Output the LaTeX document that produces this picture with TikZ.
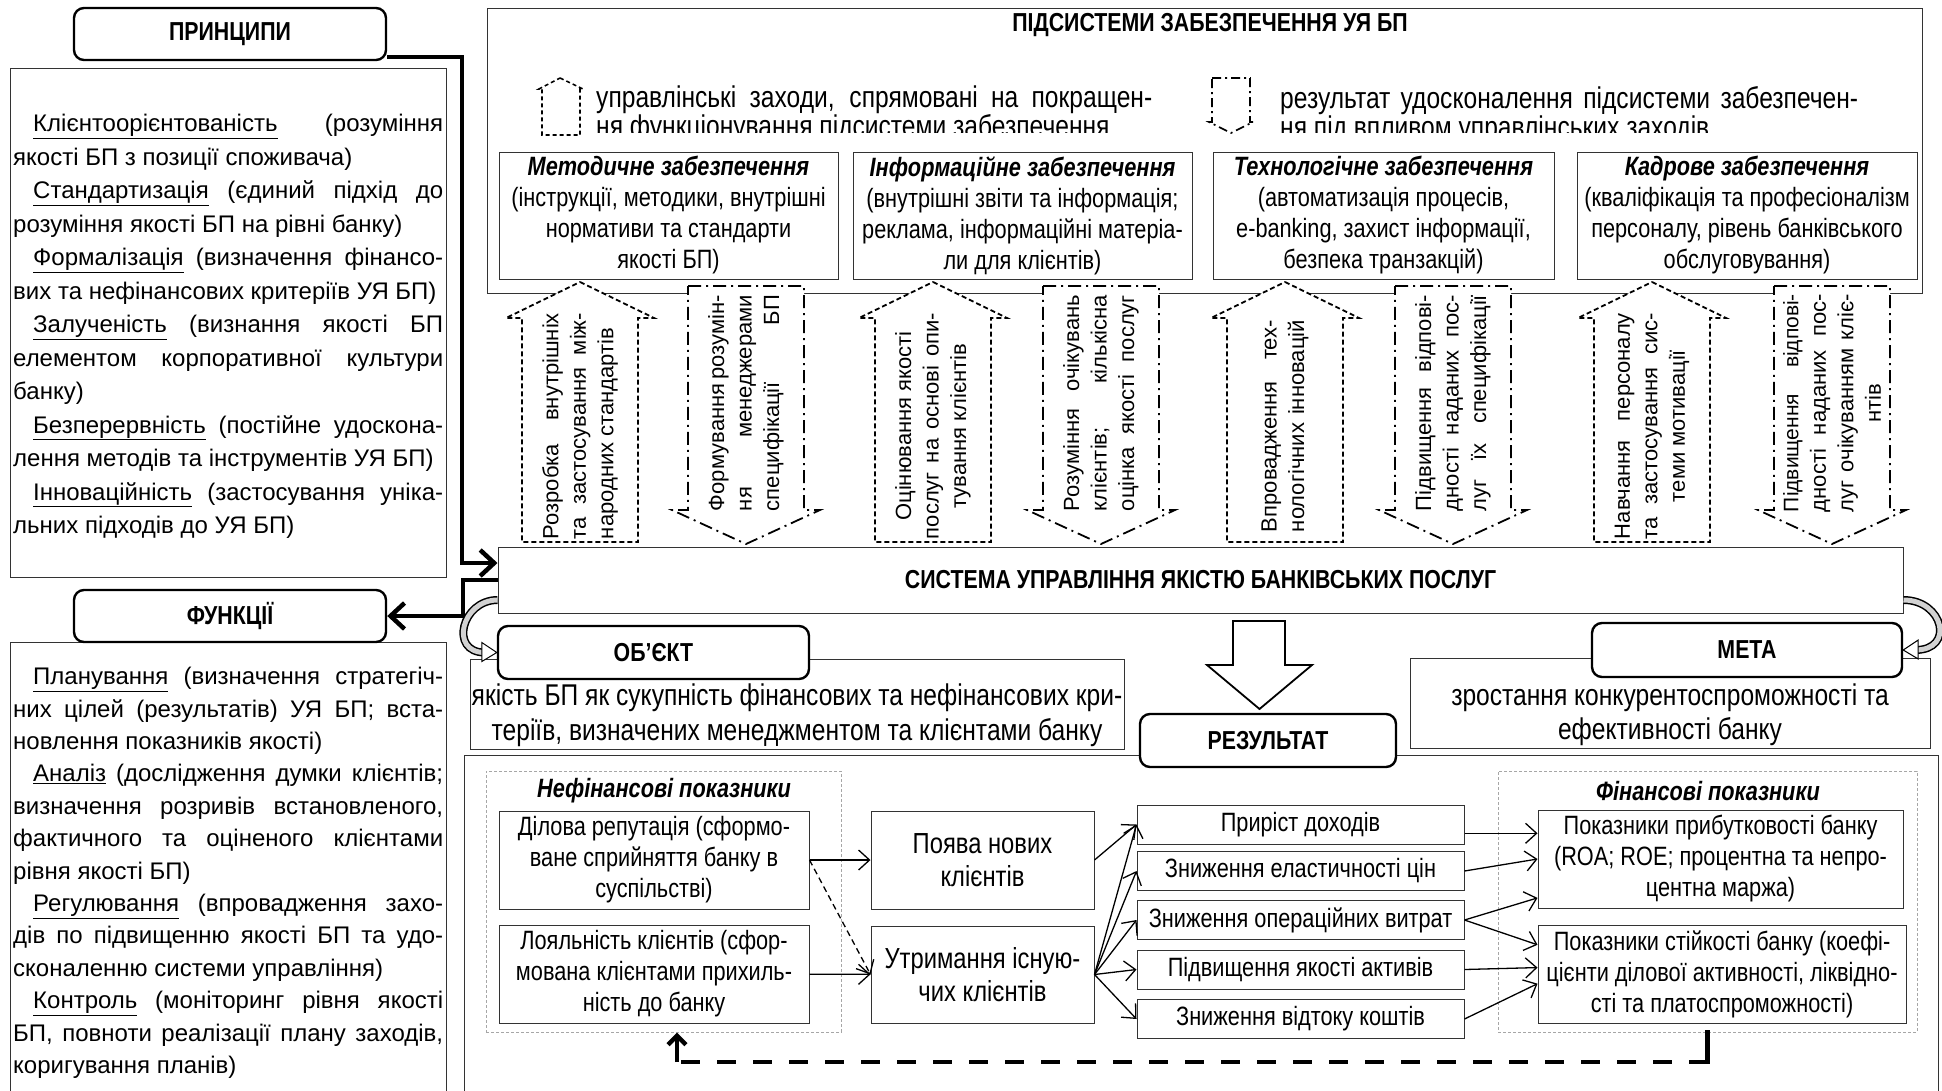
\documentclass[tikz,border=0pt]{standalone}
\usepackage{fontspec}
\setmainfont{Liberation Sans}
\newfontfamily\narrowfont[FakeStretch=0.82]{Liberation Sans}
\usetikzlibrary{arrows.meta}
\newcommand\jl[2][430pt]{\makebox[#1][s]{#2}}
\newcommand\ind{\hspace*{20pt}}

\begin{document}
\begin{tikzpicture}[x=1pt,y=-1pt,
    frame/.style={draw=lineC,line width=1pt},
    tbox/.style={draw=lineC,line width=1pt,fill=white,inner sep=1pt,align=center,
                 font=\narrowfont\fontsize{26.5}{31}\selectfont},
    head/.style={draw,line width=2.4pt,rounded corners=10pt,fill=white,
                 font=\narrowfont\bfseries\fontsize{26}{30}\selectfont},
    hdtxt/.style={inner sep=0pt,font=\narrowfont\bfseries\fontsize{26}{30}\selectfont},
    grtxt/.style={inner sep=0pt,font=\narrowfont\bfseries\itshape\fontsize{26.5}{31}\selectfont},
    ltext/.style={align=left,inner sep=0pt,anchor=north west,
                  font=\fontsize{24}{33.5}\selectfont},
    legtext/.style={align=left,inner sep=0pt,anchor=north west,
                    font=\narrowfont\fontsize{30}{29}\selectfont},
    bigtxt/.style={inner sep=0pt,align=center,font=\narrowfont\fontsize{30}{34.5}\selectfont},
    vtext/.style={rotate=90,inner sep=0pt,font=\fontsize{22}{27.5}\selectfont},
    uparr/.style={draw,line width=1.8pt,fill=white,dash pattern=on 5pt off 3pt},
    dnarr/.style={draw,line width=1.8pt,fill=white,dash pattern=on 13pt off 5pt on 2pt off 5pt},
    conn/.style={draw,line width=1.3pt,-{Straight Barb[length=11pt,width=20pt]}},
    bigconn/.style={draw,line width=4.5pt,-{Straight Barb[length=14pt,width=26pt]}},
    band/.style={line width=5pt,draw=gray!35,preaction={draw=black,line width=8pt}},
    group/.style={draw=gray!70,line width=1pt,dash pattern=on 3pt off 2pt}]
  \colorlet{lineC}{black!80}
  \useasboundingbox (0,0) rectangle (1942,1090);

  % принципи та функції
  \node[head,minimum width=312pt,minimum height=52pt] (prinT) at (230,34) {ПРИНЦИПИ};
  \node[frame,minimum width=436pt,minimum height=509pt] (prinB) at (228,322.5) {};
  \node[ltext] (prinTxt) at (13,114) {%
    \jl{\ind\underline{Клієнтоорієнтованість} (розуміння}\\
    якості БП з позиції споживача)\\
    \jl{\ind\underline{Стандартизація} (єдиний підхід до}\\
    розуміння якості БП на рівні банку)\\
    \jl{\ind\underline{Формалізація} (визначення фінансо-}\\
    вих та нефінансових критеріїв УЯ БП)\\
    \jl{\ind\underline{Залученість} (визнання якості БП}\\
    \jl{елементом корпоративної культури}\\
    банку)\\
    \jl{\ind\underline{Безперервність} (постійне удоскона-}\\
    лення методів та інструментів УЯ БП)\\
    \jl{\ind\underline{Інноваційність} (застосування уніка-}\\
    льних підходів до УЯ БП)};
  \node[frame,minimum width=436pt,minimum height=460pt] (funcB) at (228,872) {};
  \node[head,minimum width=312pt,minimum height=52pt] (funcT) at (230,616) {ФУНКЦІЇ};
  \node[ltext,font=\fontsize{24}{32.4}\selectfont] (funcTxt) at (13,667) {%
    \jl{\ind\underline{Планування} (визначення стратегіч-}\\
    \jl{них цілей (результатів) УЯ БП; вста-}\\
    новлення показників якості)\\
    \jl{\ind\underline{Аналіз} (дослідження думки клієнтів;}\\
    \jl{визначення розривів встановленого,}\\
    \jl{фактичного та оціненого клієнтами}\\
    рівня якості БП)\\
    \jl{\ind\underline{Регулювання} (впровадження захо-}\\
    \jl{дів по підвищенню якості БП та удо-}\\
    сконаленню системи управління)\\
    \jl{\ind\underline{Контроль} (моніторинг рівня якості}\\
    \jl{БП, повноти реалізації плану заходів,}\\
    коригування планів)};

  % підсистеми забезпечення
  \node[frame,minimum width=1435pt,minimum height=285pt] (subs) at (1204.5,150.5) {};
  \node[hdtxt] (subsT) at (1210,25) {ПІДСИСТЕМИ ЗАБЕЗПЕЧЕННЯ УЯ БП};
  \draw[uparr,line width=1.6pt,dash pattern=on 4pt off 3pt]
    (560,78) -- (583,89) -- (580,89) -- (580,135) -- (542,135) -- (542,89) -- (539,89) -- cycle;
  \draw[dnarr,line width=1.6pt,dash pattern=on 9pt off 4pt on 2pt off 4pt]
    (1212,78) -- (1250,78) -- (1250,122) -- (1253,122) -- (1231,133) -- (1209,122) -- (1212,122) -- cycle;
  \begin{scope}
    \clip (590,76) rectangle (1900,132);
    \node[legtext] (leg1) at (596,86) {\jl[556pt]{управлінські заходи, спрямовані на покращен-}\\
      ня функціонування підсистеми забезпечення};
    \node[legtext] (leg2) at (1280,86) {\jl[578pt]{результат удосконалення підсистеми забезпечен-}\\
      ня під впливом управлінських заходів};
  \end{scope}
  \node[tbox,minimum width=339pt,minimum height=127pt] (met) at (668.5,215.5)
    {\textbf{\textit{Методичне забезпечення}}\\(інструкції, методики, внутрішні\\нормативи та стандарти\\якості БП)};
  \node[tbox,minimum width=339pt,minimum height=127pt] (inf) at (1022.5,215.5)
    {\textbf{\textit{Інформаційне забезпечення}}\\(внутрішні звіти та інформація;\\реклама, інформаційні матеріа-\\ли для клієнтів)};
  \node[tbox,minimum width=341pt,minimum height=127pt] (tech) at (1383.5,215.5)
    {\textbf{\textit{Технологічне забезпечення}}\\(автоматизація процесів,\\e-banking, захист інформації,\\безпека транзакцій)};
  \node[tbox,minimum width=340pt,minimum height=127pt] (kadr) at (1747,215.5)
    {\textbf{\textit{Кадрове забезпечення}}\\(кваліфікація та професіоналізм\\персоналу, рівень банківського\\обслуговування)};

  % управлінські заходи (вгору) та результати (вниз)
  \foreach \c/\al/\t in {
      580/left/{\jl[226pt]{Розробка внутрішніх}\\\jl[226pt]{та застосування між-}\\народних стандартів},
      933/center/{Оцінювання якості\\\jl[226pt]{послуг на основі опи-}\\тування клієнтів},
      1285/left/{\jl[212pt]{Впровадження тех-}\\\jl[212pt]{нологічних інновацій}},
      1652/center/{\jl[226pt]{Навчання персоналу}\\\jl[226pt]{та застосування сис-}\\теми мотивації}}{
    \draw[uparr] (\c,282) -- (\c+74,318) -- (\c+58,318) -- (\c+58,542)
      -- (\c-58,542) -- (\c-58,318) -- (\c-74,318) -- cycle;
    \node[vtext,align=\al] (up\c) at (\c,426) {\t};
  }
  \foreach \c/\al/\t in {
      746/left/{\jl[216pt]{Формування розумін-}\\\jl[216pt]{ня менеджерами}\\\jl[216pt]{специфікації БП}},
      1101/left/{\jl[216pt]{Розуміння очікувань}\\\jl[216pt]{клієнтів; кількісна}\\\jl[216pt]{оцінка якості послуг}},
      1453/left/{\jl[216pt]{Підвищення відпові-}\\\jl[216pt]{дності наданих пос-}\\\jl[216pt]{луг їх специфікації}},
      1832/center/{\fontsize{21}{25}\selectfont\jl[218pt]{Підвищення відпові-}\\\jl[218pt]{дності наданих пос-}\\\jl[218pt]{луг очікуванням кліє-}\\нтів}}{
    \draw[dnarr] (\c-58,286) -- (\c+58,286) -- (\c+58,510) -- (\c+74,510)
      -- (\c,544) -- (\c-74,510) -- (\c-58,510) -- cycle;
    \node[vtext,align=\al] (dn\c) at (\c,403) {\t};
  }

  % система
  \node[tbox,minimum width=1405pt,minimum height=66pt,
        font=\narrowfont\bfseries\fontsize{26}{30}\selectfont] (sys) at (1200.5,580)
    {СИСТЕМА УПРАВЛІННЯ ЯКІСТЮ БАНКІВСЬКИХ ПОСЛУГ};
  \coordinate (k1) at (462,563);
  \coordinate (k2) at (463,580);
  \draw[bigconn] ([yshift=4pt]prinT.south east) -| (k1) -- (k1 -| sys.west);
  \draw[bigconn] (sys.west) -- (k2) |- (funcT.east);

  % об'єкт і мета
  \node[frame,fill=white,minimum width=654pt,minimum height=90pt] (objB) at (797,704) {};
  \node[bigtxt] (objTxt) at ([yshift=-11pt]objB.center)
    {якість БП як сукупність фінансових та нефінансових кри-\\теріїв, визначених менеджментом та клієнтами банку};
  \node[frame,fill=white,minimum width=520pt,minimum height=90pt] (goalB) at (1670,703) {};
  \node[bigtxt] (goalTxt) at ([yshift=-11.5pt]goalB.center)
    {зростання конкурентоспроможності та\\ефективності банку};
  \node[head,minimum width=311pt,minimum height=53pt] (obj) at (653.5,652.5) {ОБ’ЄКТ};
  \node[head,minimum width=310pt,minimum height=54pt] (goalT) at (1747,650) {МЕТА};

  \coordinate (cl) at ([yshift=-20pt]sys.west);
  \coordinate (cr) at ([yshift=-20pt]sys.east);
  \draw[band] (cl) .. controls +(-36,0) and +(-36,0) .. ([xshift=-12pt]obj.west);
  \draw[line width=1pt,fill=white] ([shift={(-15,-10)}]obj.west) -- (obj.west) -- ([shift={(-15,9)}]obj.west) -- cycle;
  \draw[band] (cr) .. controls +(40,0) and +(40,0) .. ([xshift=12pt]goalT.east);
  \draw[line width=1pt,fill=white] ([shift={(15,-10)}]goalT.east) -- (goalT.east) -- ([shift={(15,9)}]goalT.east) -- cycle;

  % результат
  \draw[line width=1.8pt,fill=white] (1233,621) -- (1285,621) -- (1285,665) -- (1312,665)
    -- (1259.5,709) -- (1207,665) -- (1233,665) -- cycle;
  \node[frame,minimum width=1474pt,minimum height=345pt] (resB) at (1201,927.5) {};
  \node[head,minimum width=256pt,minimum height=53pt] (resT) at (1268,740.5) {РЕЗУЛЬТАТ};

  \node[group,minimum width=355pt,minimum height=261pt] (nonfin) at (663.5,901.5) {};
  \node[grtxt] (nonfinL) at (664,791) {Нефінансові показники};
  \node[group,minimum width=419pt,minimum height=261pt] (fin) at (1707.5,901.5) {};
  \node[grtxt] (finL) at (1708,791) {Фінансові показники};

  \node[tbox,minimum width=310pt,minimum height=98pt] (dil) at (654,860)
    {Ділова репутація (сформо-\\ване сприйняття банку в\\суспільстві)};
  \node[tbox,minimum width=310pt,minimum height=98pt] (loy) at (654,974)
    {Лояльність клієнтів (сфор-\\мована клієнтами прихиль-\\ність до банку};
  \node[tbox,minimum width=223pt,minimum height=98pt,
        font=\narrowfont\fontsize{29}{33}\selectfont] (pov) at (982.5,860) {Поява нових\\клієнтів};
  \node[tbox,minimum width=223pt,minimum height=97pt,
        font=\narrowfont\fontsize{29}{33}\selectfont] (utr) at (982.5,974.5) {Утримання існую-\\чих клієнтів};
  \foreach \n/\y/\t in {prir/824.5/Приріст доходів, zel/871/Зниження еластичності цін,
      zop/920/Зниження операційних витрат, pid/969.5/Підвищення якості активів,
      zvk/1019/Зниження відтоку коштів}
    \node[tbox,minimum width=327pt,minimum height=39pt] (\n) at (1300.5,\y) {\t};
  \node[tbox,minimum width=365pt,minimum height=98pt] (prof) at (1720.5,859)
    {Показники прибутковості банку\\(ROA; ROE; процентна та непро-\\центна маржа)};
  \node[tbox,minimum width=368pt,minimum height=98pt] (stab) at (1722,974)
    {Показники стійкості банку (коефі-\\цієнти ділової активності, ліквідно-\\сті та платоспроможності)};

  \draw[conn] (dil) -- (pov);
  \draw[conn] (loy) -- (utr);
  \draw[conn,dash pattern=on 6pt off 4pt] (dil.east) -- (utr.west);
  \draw[conn] (pov.east) -- (prir.west);
  \foreach \n in {prir,zel,zop,pid,zvk}
    \draw[conn] (utr.east) -- (\n.west);
  \draw[conn] (prir.east |- prof.172) -- (prof.172);
  \draw[conn] (zel.east) -- (prof.west);
  \draw[conn] (zop.east) -- (prof.192);
  \draw[conn] (zop.east) -- (stab.171);
  \draw[conn] (pid.east) -- (stab.178);
  \draw[conn] (zvk.east) -- (stab.183);

  % зворотний зв'язок
  \coordinate (fbk) at (677,1062);
  \draw[line width=4.5pt,line cap=rect] (fin.south) -- (fin.south |- fbk);
  \draw[line width=4.5pt,dash pattern=on 19pt off 17pt] (fin.south |- fbk) -- (fbk);
  \draw[line width=4.5pt,-{Straight Barb[length=9pt,width=18pt]}] (fbk) -- (fbk |- nonfin.south);
\end{tikzpicture}
\end{document}
